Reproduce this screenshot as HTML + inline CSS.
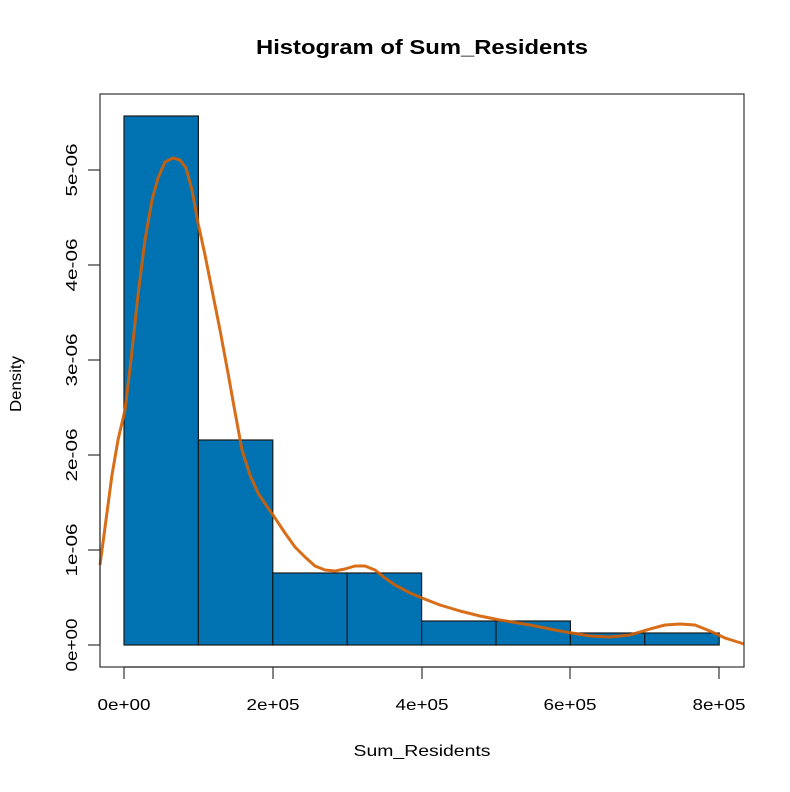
<!DOCTYPE html>
<html><head><style>body{margin:0;background:#fff}svg{display:block}text{font-family:"Liberation Sans",Arial,sans-serif;fill:#000}</style></head>
<body>
<svg width="790" height="792" viewBox="0 0 790 792">
<text x="256" y="54" font-size="20" font-weight="bold" textLength="332" lengthAdjust="spacingAndGlyphs">Histogram of Sum_Residents</text>
<g fill="#0072B2" stroke="#1a1a1a" stroke-width="1.2">
<rect x="124" y="116" width="74.4" height="529"/>
<rect x="198.4" y="440" width="74.4" height="205"/>
<rect x="272.8" y="573" width="74.4" height="72"/>
<rect x="347.2" y="573" width="74.4" height="72"/>
<rect x="421.6" y="621" width="74.4" height="24"/>
<rect x="496" y="621" width="74.4" height="24"/>
<rect x="570.4" y="633" width="74.4" height="12"/>
<rect x="644.8" y="633" width="74.4" height="12"/>
</g>
<polyline points="100,565 106,520 112,475 118,440 125,410 131,360 138,295 145,240 152,200 158,178 165,162 173,158 180,160 186,168 192,190 198,223 205,255 212,290 220,330 228,373 235,412 242,450 250,475 258,493 266,505 275,518 285,533 295,547 305,557 315,566 325,570 335,571 345,569 355,566 365,566 375,570 385,578 395,585 410,593 422,598 440,605 460,611 480,616 500,620 530,625 560,631 590,636 610,637 630,635 650,629 665,625 680,624 695,625 710,631 725,638 744,644" fill="none" stroke="#D55E00" stroke-width="3" stroke-opacity="0.9" stroke-linejoin="round"/>
<rect x="100" y="94" width="644" height="573" fill="none" stroke="#333" stroke-width="1.2"/>
<g stroke="#333" stroke-width="1.2">
<line x1="124" y1="667" x2="719" y2="667"/>
<line x1="124" y1="667" x2="124" y2="679"/><line x1="273" y1="667" x2="273" y2="679"/><line x1="422" y1="667" x2="422" y2="679"/><line x1="570" y1="667" x2="570" y2="679"/><line x1="719" y1="667" x2="719" y2="679"/>
<line x1="100" y1="170" x2="100" y2="645"/>
<line x1="88" y1="170" x2="100" y2="170"/><line x1="88" y1="265" x2="100" y2="265"/><line x1="88" y1="360" x2="100" y2="360"/><line x1="88" y1="455" x2="100" y2="455"/><line x1="88" y1="550" x2="100" y2="550"/><line x1="88" y1="645" x2="100" y2="645"/>
</g>
<g font-size="16" text-anchor="middle">
<text x="124" y="710" textLength="53" lengthAdjust="spacingAndGlyphs">0e+00</text><text x="273" y="710" textLength="53" lengthAdjust="spacingAndGlyphs">2e+05</text><text x="422" y="710" textLength="53" lengthAdjust="spacingAndGlyphs">4e+05</text><text x="570" y="710" textLength="53" lengthAdjust="spacingAndGlyphs">6e+05</text><text x="719" y="710" textLength="53" lengthAdjust="spacingAndGlyphs">8e+05</text>
<text x="422" y="756" textLength="137" lengthAdjust="spacingAndGlyphs">Sum_Residents</text>
<text transform="translate(77,170) rotate(-90)" textLength="53" lengthAdjust="spacingAndGlyphs">5e-06</text>
<text transform="translate(77,265) rotate(-90)" textLength="53" lengthAdjust="spacingAndGlyphs">4e-06</text>
<text transform="translate(77,360) rotate(-90)" textLength="53" lengthAdjust="spacingAndGlyphs">3e-06</text>
<text transform="translate(77,455) rotate(-90)" textLength="53" lengthAdjust="spacingAndGlyphs">2e-06</text>
<text transform="translate(77,550) rotate(-90)" textLength="53" lengthAdjust="spacingAndGlyphs">1e-06</text>
<text transform="translate(77,645) rotate(-90)" textLength="53" lengthAdjust="spacingAndGlyphs">0e+00</text>
<text transform="translate(21,384) rotate(-90)" textLength="56" lengthAdjust="spacingAndGlyphs">Density</text>
</g>
</svg>
</body></html>
